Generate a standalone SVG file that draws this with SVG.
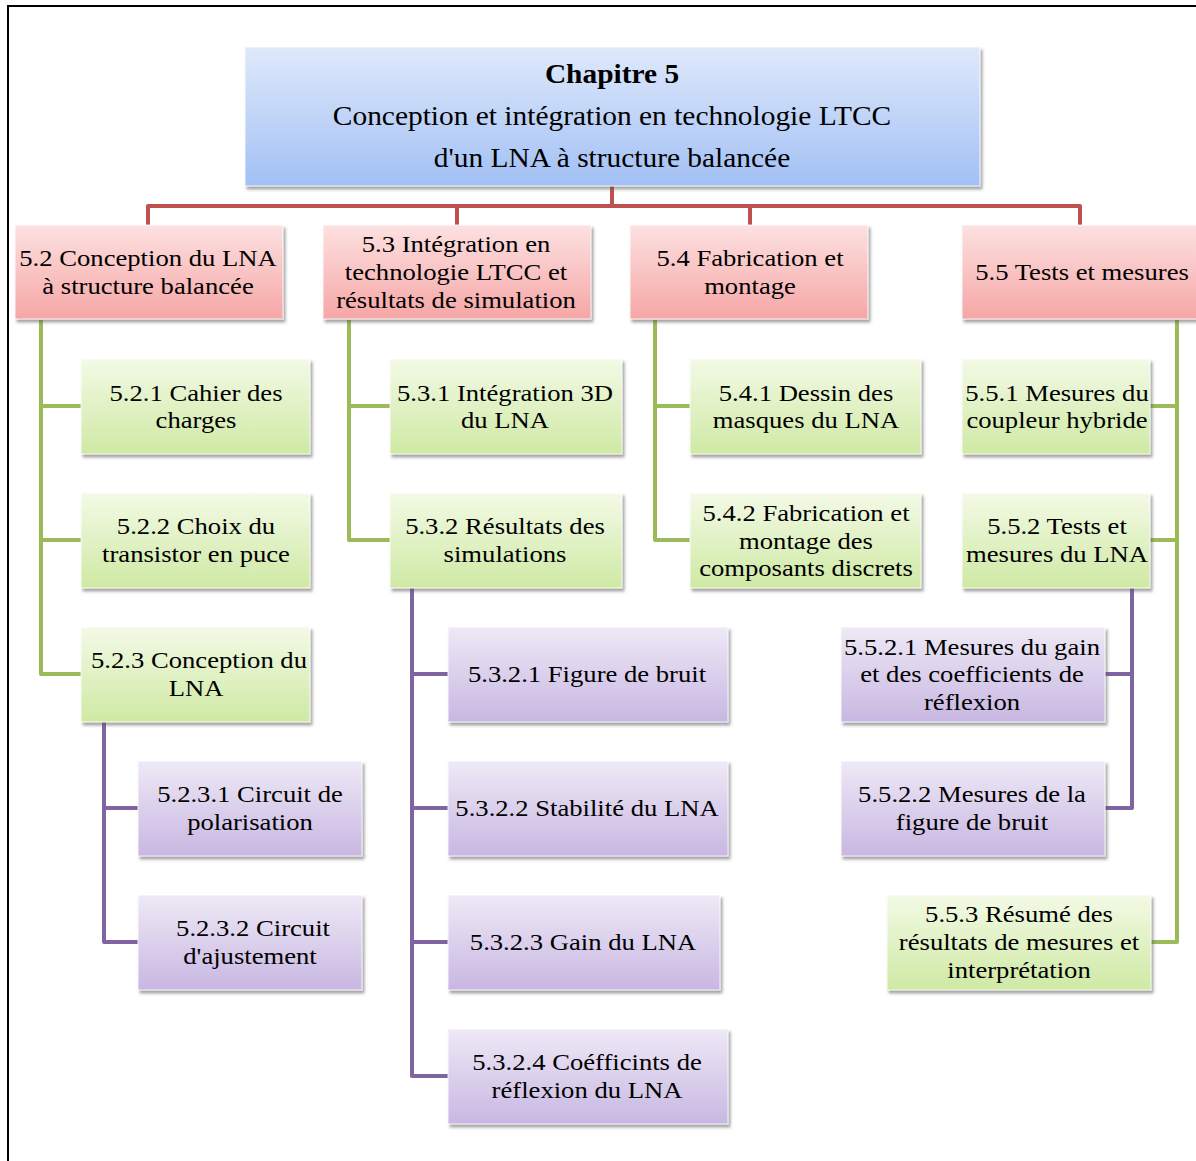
<svg xmlns="http://www.w3.org/2000/svg" width="1196" height="1161" viewBox="0 0 1196 1161">
  <style>
    text { font-family: "Liberation Serif", "Times New Roman", serif; font-size: 24px; fill: #000; text-anchor: middle; }
    .title { font-size: 26.5px; }
    .bold { font-weight: bold; }
    .box { stroke: #ffffff; stroke-opacity: 0.55; stroke-width: 1.5; filter: url(#shadow); }
    .blue { fill: url(#gBlue); }
    .red { fill: url(#gRed); }
    .green { fill: url(#gGreen); }
    .purple { fill: url(#gPurple); }
    .c-red { stroke: #c0504d; }
    .c-green { stroke: #9bbb59; }
    .c-purple { stroke: #8064a2; }
    .links path { fill: none; stroke-width: 4; stroke-linejoin: round; }
    .frame { fill: none; stroke: #000; stroke-width: 2; }
  </style>
  <defs>
    <linearGradient id="gBlue" x1="0" y1="0" x2="0" y2="1">
      <stop offset="0" stop-color="#dfe9fb"/>
      <stop offset="1" stop-color="#a2c0f4"/>
    </linearGradient>
    <linearGradient id="gRed" x1="0" y1="0" x2="0" y2="1">
      <stop offset="0" stop-color="#fde1e1"/>
      <stop offset="1" stop-color="#f6a6a6"/>
    </linearGradient>
    <linearGradient id="gGreen" x1="0" y1="0" x2="0" y2="1">
      <stop offset="0" stop-color="#f3fae6"/>
      <stop offset="1" stop-color="#cfe9a4"/>
    </linearGradient>
    <linearGradient id="gPurple" x1="0" y1="0" x2="0" y2="1">
      <stop offset="0" stop-color="#eee9f6"/>
      <stop offset="1" stop-color="#c8b7e2"/>
    </linearGradient>
    <filter id="shadow" x="-5%" y="-5%" width="115%" height="120%">
      <feDropShadow dx="2" dy="3" stdDeviation="1.8" flood-color="#555" flood-opacity="0.55"/>
    </filter>
  </defs>

  <rect width="1196" height="1161" fill="#ffffff"/>
  <!-- page frame -->
  <path class="frame" d="M8,1161 V6 H1196"/>

  <!-- connectors -->
  <g id="connectors" class="links">
    <path class="c-red" d="M612,186 V206 M148,225 V206 H1080 V225 M457,206 V225 M750,206 V225"/>
    <path class="c-green" d="M41,320 V674 H81 M41,406 H81 M41,540 H81"/>
    <path class="c-green" d="M349,320 V540 H390 M349,406 H390"/>
    <path class="c-green" d="M655,320 V540 H690 M655,406 H690"/>
    <path class="c-green" d="M1177,320 V942 H1150 M1177,406 H1150 M1177,540 H1150"/>
    <path class="c-purple" d="M104,722 V942 H138 M104,808 H138"/>
    <path class="c-purple" d="M412,588 V1076 H448 M412,674 H448 M412,808 H448 M412,942 H448"/>
    <path class="c-purple" d="M1132,588 V808 H1105 M1132,674 H1105"/>
  </g>

  <!-- labels are set in a slightly widened serif (horizontal scale 1.11) -->
  <g id="ch5">
    <rect class="box blue" x="245" y="47" width="735" height="139"/>
    <text class="title bold" transform="matrix(1.11 0 0 1 612 83)">Chapitre 5</text>
    <text class="title" transform="matrix(1.11 0 0 1 612 125)">Conception et intégration en technologie LTCC</text>
    <text class="title" transform="matrix(1.11 0 0 1 612 167)">d'un LNA à structure balancée</text>
  </g>

  <!-- sections -->
  <g id="s5-2">
    <rect class="box red" x="15" y="225" width="268" height="94"/>
    <text transform="matrix(1.11 0 0 1 148 266)">5.2 Conception du LNA</text>
    <text transform="matrix(1.11 0 0 1 148 294)">à structure balancée</text>
  </g>
  <g id="s5-3">
    <rect class="box red" x="323" y="225" width="268" height="94"/>
    <text transform="matrix(1.11 0 0 1 456 252)">5.3 Intégration en</text>
    <text transform="matrix(1.11 0 0 1 456 280)">technologie LTCC et</text>
    <text transform="matrix(1.11 0 0 1 456 308)">résultats de simulation</text>
  </g>
  <g id="s5-4">
    <rect class="box red" x="630" y="225" width="238" height="94"/>
    <text transform="matrix(1.11 0 0 1 750 266)">5.4 Fabrication et</text>
    <text transform="matrix(1.11 0 0 1 750 294)">montage</text>
  </g>
  <g id="s5-5">
    <rect class="box red" x="962" y="225" width="240" height="94"/>
    <text transform="matrix(1.11 0 0 1 1082 280)">5.5 Tests et mesures</text>
  </g>

  <!-- 5.2 subsections -->
  <g id="s5-2-1">
    <rect class="box green" x="81" y="359" width="229" height="95"/>
    <text transform="matrix(1.11 0 0 1 196 401)">5.2.1 Cahier des</text>
    <text transform="matrix(1.11 0 0 1 196 428)">charges</text>
  </g>
  <g id="s5-2-2">
    <rect class="box green" x="81" y="493" width="229" height="95"/>
    <text transform="matrix(1.11 0 0 1 196 534)">5.2.2 Choix du</text>
    <text transform="matrix(1.11 0 0 1 196 562)">transistor en puce</text>
  </g>
  <g id="s5-2-3">
    <rect class="box green" x="81" y="627" width="229" height="95"/>
    <text transform="matrix(1.11 0 0 1 199 668)">5.2.3 Conception du</text>
    <text transform="matrix(1.11 0 0 1 196 696)">LNA</text>
  </g>
  <g id="s5-2-3-1">
    <rect class="box purple" x="138" y="761" width="224" height="95"/>
    <text transform="matrix(1.11 0 0 1 250 802)">5.2.3.1 Circuit de</text>
    <text transform="matrix(1.11 0 0 1 250 830)">polarisation</text>
  </g>
  <g id="s5-2-3-2">
    <rect class="box purple" x="138" y="895" width="224" height="95"/>
    <text transform="matrix(1.11 0 0 1 253 936)">5.2.3.2 Circuit</text>
    <text transform="matrix(1.11 0 0 1 250 964)">d'ajustement</text>
  </g>

  <!-- 5.3 subsections -->
  <g id="s5-3-1">
    <rect class="box green" x="390" y="359" width="232" height="95"/>
    <text transform="matrix(1.11 0 0 1 505 401)">5.3.1 Intégration 3D</text>
    <text transform="matrix(1.11 0 0 1 505 428)">du LNA</text>
  </g>
  <g id="s5-3-2">
    <rect class="box green" x="390" y="493" width="232" height="95"/>
    <text transform="matrix(1.11 0 0 1 505 534)">5.3.2 Résultats des</text>
    <text transform="matrix(1.11 0 0 1 505 562)">simulations</text>
  </g>
  <g id="s5-3-2-1">
    <rect class="box purple" x="448" y="627" width="280" height="95"/>
    <text transform="matrix(1.11 0 0 1 587 682)">5.3.2.1 Figure de bruit</text>
  </g>
  <g id="s5-3-2-2">
    <rect class="box purple" x="448" y="761" width="280" height="95"/>
    <text transform="matrix(1.11 0 0 1 587 816)">5.3.2.2 Stabilité du LNA</text>
  </g>
  <g id="s5-3-2-3">
    <rect class="box purple" x="448" y="895" width="272" height="95"/>
    <text transform="matrix(1.11 0 0 1 583 950)">5.3.2.3 Gain du LNA</text>
  </g>
  <g id="s5-3-2-4">
    <rect class="box purple" x="448" y="1029" width="280" height="95"/>
    <text transform="matrix(1.11 0 0 1 587 1070)">5.3.2.4 Coéfficints de</text>
    <text transform="matrix(1.11 0 0 1 587 1098)">réflexion du LNA</text>
  </g>

  <!-- 5.4 subsections -->
  <g id="s5-4-1">
    <rect class="box green" x="690" y="359" width="231" height="95"/>
    <text transform="matrix(1.11 0 0 1 806 401)">5.4.1 Dessin des</text>
    <text transform="matrix(1.11 0 0 1 806 428)">masques du LNA</text>
  </g>
  <g id="s5-4-2">
    <rect class="box green" x="690" y="493" width="231" height="95"/>
    <text transform="matrix(1.11 0 0 1 806 521)">5.4.2 Fabrication et</text>
    <text transform="matrix(1.11 0 0 1 806 549)">montage des</text>
    <text transform="matrix(1.11 0 0 1 806 576)">composants discrets</text>
  </g>

  <!-- 5.5 subsections -->
  <g id="s5-5-1">
    <rect class="box green" x="962" y="359" width="188" height="95"/>
    <text transform="matrix(1.11 0 0 1 1057 401)">5.5.1 Mesures du</text>
    <text transform="matrix(1.11 0 0 1 1057 428)">coupleur hybride</text>
  </g>
  <g id="s5-5-2">
    <rect class="box green" x="962" y="493" width="188" height="95"/>
    <text transform="matrix(1.11 0 0 1 1057 534)">5.5.2 Tests et</text>
    <text transform="matrix(1.11 0 0 1 1057 562)">mesures du LNA</text>
  </g>
  <g id="s5-5-2-1">
    <rect class="box purple" x="841" y="627" width="264" height="95"/>
    <text transform="matrix(1.11 0 0 1 972 655)">5.5.2.1 Mesures du gain</text>
    <text transform="matrix(1.11 0 0 1 972 682)">et des coefficients de</text>
    <text transform="matrix(1.11 0 0 1 972 710)">réflexion</text>
  </g>
  <g id="s5-5-2-2">
    <rect class="box purple" x="841" y="761" width="264" height="95"/>
    <text transform="matrix(1.11 0 0 1 972 802)">5.5.2.2 Mesures de la</text>
    <text transform="matrix(1.11 0 0 1 972 830)">figure de bruit</text>
  </g>
  <g id="s5-5-3">
    <rect class="box green" x="887" y="895" width="264" height="95"/>
    <text transform="matrix(1.11 0 0 1 1019 922)">5.5.3 Résumé des</text>
    <text transform="matrix(1.11 0 0 1 1019 950)">résultats de mesures et</text>
    <text transform="matrix(1.11 0 0 1 1019 978)">interprétation</text>
  </g>
</svg>
